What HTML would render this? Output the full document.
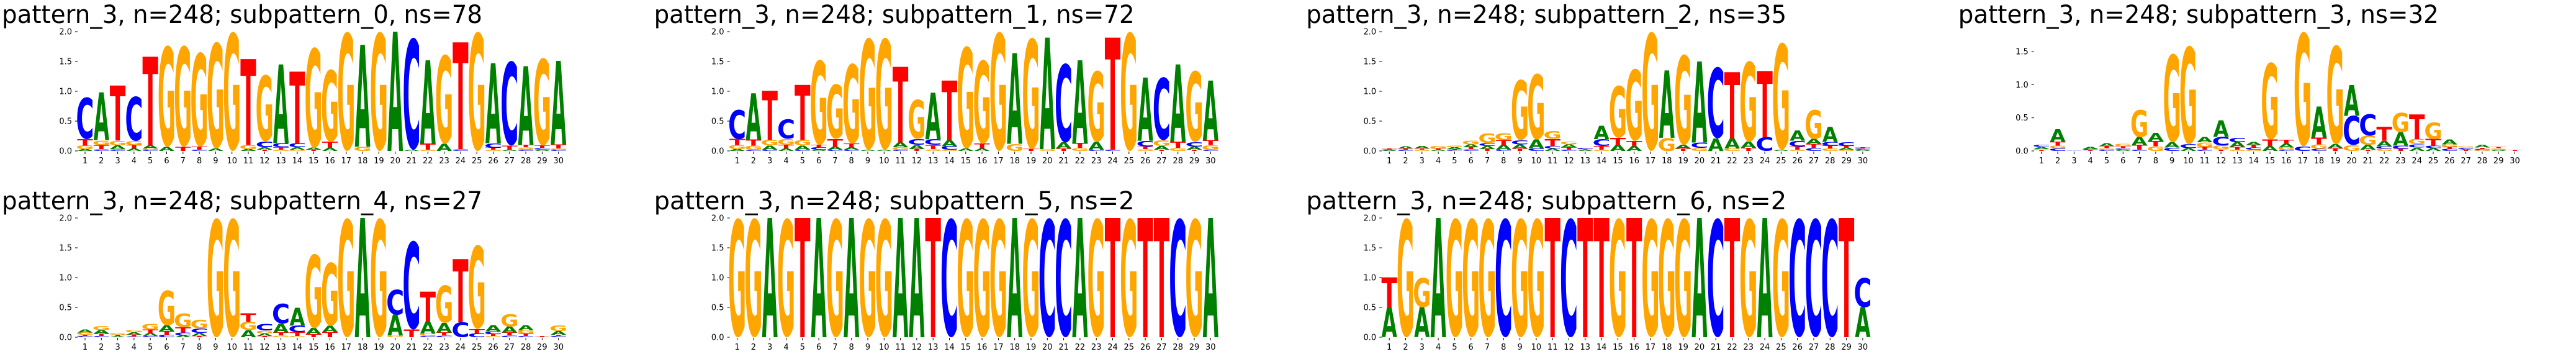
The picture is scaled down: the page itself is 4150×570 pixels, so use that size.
<!DOCTYPE html>
<html><head><meta charset="utf-8">
<style>
html,body{margin:0;padding:0;background:#fff;overflow:hidden;}
svg{display:block;}
</style></head>
<body>
<svg id="fig" width="4150" height="570" viewBox="0 0 4150 570" xmlns="http://www.w3.org/2000/svg" overflow="hidden"></svg>
<script>
const titles = [
 "pattern_3, n=248; subpattern_0, ns=78",
 "pattern_3, n=248; subpattern_1, ns=72",
 "pattern_3, n=248; subpattern_2, ns=35",
 "pattern_3, n=248; subpattern_3, ns=32",
 "pattern_3, n=248; subpattern_4, ns=27",
 "pattern_3, n=248; subpattern_5, ns=2",
 "pattern_3, n=248; subpattern_6, ns=2"
];
const bases = ["A","C","G","T"];
const baseColors = {A:"#008000",C:"#0000ff",G:"#ffa500",T:"#ff0000"};
const positions = [1,2,3,4,5,6,7,8,9,10,11,12,13,14,15,16,17,18,19,20,21,22,23,24,25,26,27,28,29,30];
const yTicks = [0,0.5,1.0,1.5,2.0];
const yTickLabels = ["0.0","0.5","1.0","1.5","2.0"];

const p0 = [[.03,.7,.06,.11],[.8,.03,.08,.07],[.06,.03,.08,.92],[.04,.75,.07,.06],[.05,.02,.02,1.49],[.07,0,1.7,0],[0,0,1.7,.07],[0,.02,1.59,.05],[.04,0,1.79,0],[0,0,2,0],[.03,0,.07,1.44],[.04,.1,1.12,.02],[1.32,.07,.02,.04],[.04,.07,.02,1.2],[.03,0,1.69,.02],[.05,0,1.22,.1],[0,0,2,0],[1.71,0,.07,0],[0,0,2,0],[2,0,0,0],[.02,1.88,0,0],[1.4,0,.02,.1],[.12,0,1.5,0],[0,.03,0,1.79],[0,0,2,0],[1.34,.08,.02,.03],[.02,1.42,0,.07],[1.32,.03,.03,.04],[.02,.03,1.47,.04],[1.4,.02,.02,.07]];
const p1 = [[.03,.49,.07,.1],[.78,.02,.07,.1],[.07,.02,.1,.82],[.04,.33,.1,.06],[.07,.02,.09,.92],[.02,.04,1.43,.04],[.05,.02,.92,.13],[.04,.02,1.35,.06],[.02,0,1.88,0],[.02,0,1.88,0],[.08,.02,.04,1.27],[.07,.1,.66,.03],[.78,.1,.03,.07],[.1,.06,.02,1.0],[.04,0,1.72,0],[.04,0,1.41,.08],[0,0,2,0],[1.52,0,.12,0],[0,0,1.87,.03],[1.87,0,.03,0],[.1,1.33,0,.04],[1.39,0,.05,.08],[.13,.02,1.2,0],[0,.02,0,1.88],[0,0,2,0],[1.06,.1,.03,.04],[.06,1.06,.1,.02],[1.3,0,.05,.1],[.05,.08,1.2,.02],[1.0,.02,.08,.08]];
const p2 = [[.01,.01,0,.02],[.03,.02,0,.02],[.04,0,.02,.02],[.02,0,.04,.02],[.03,.01,.03,.02],[.05,.03,.06,.03],[.05,.05,.16,.03],[.08,.02,.12,.08],[.07,.07,1.02,.04],[.15,.04,1.11,0],[.04,.04,.13,.12],[.05,.02,.05,.04],[.01,.02,.01,.01],[.22,.12,.02,.06],[.1,0,.88,.12],[.08,0,1.21,.09],[0,0,2,0],[1.13,0,.22,0],[.06,0,1.52,.04],[1.36,.09,.05,0],[.21,1.2,0,0],[.17,0,.04,1.11],[.1,0,1.36,.05],[0,.23,0,1.11],[.02,0,1.8,0],[.17,.1,.02,.05],[.08,.05,.49,.07],[.25,.06,.04,.05],[.03,.06,.02,.03],[.02,.02,0,.02]];
const p3 = [[.03,.03,.02,.01],[.19,.04,.04,.06],[0,.005,0,0],[.03,.02,0,.01],[.05,.02,.02,.03],[.02,.02,.04,.03],[.12,.02,.42,.07],[.12,0,.07,.08],[.08,.05,1.34,0],[.04,.06,1.49,0],[.08,.02,.07,.04],[.25,.13,.06,.02],[.07,.07,.02,.04],[.05,.03,.02,.04],[.07,0,1.17,.1],[.06,.02,.03,.06],[0,.07,1.73,0],[.47,.03,.07,.1],[.06,0,1.5,.04],[.46,.44,.09,0],[.07,.33,.14,.02],[.08,.04,.03,.21],[.2,.05,.3,.03],[.05,.05,.08,.37],[.04,.04,.25,.1],[.07,.03,.04,.03],[.02,.02,.02,.01],[.04,.02,.01,.02],[.02,0,.02,.02],[0,0,0,.01]];
const p4 = [[.05,.02,.04,.02],[.06,.02,.07,.04],[.02,0,.03,.02],[.04,.01,.04,.03],[.05,.02,.1,.06],[.1,.04,.59,.06],[.03,.05,.23,.09],[.05,.08,.15,.02],[0,0,2,0],[0,0,2,0],[.12,0,.14,.14],[.04,.11,.05,.02],[.15,.34,.03,.05],[.3,.12,.02,.06],[.1,0,1.25,.05],[.1,0,1.07,.09],[0,0,2,0],[2,0,0,0],[0,0,2,0],[.35,.43,.03,0],[0,1.49,0,.13],[.2,.02,.04,.5],[.16,.03,.63,.05],[0,.25,0,1.06],[0,.07,1.41,.07],[.1,.05,.02,.03],[.1,.03,.21,.05],[.08,.02,.06,.04],[.005,0,0,.01],[.06,.02,.1,.02]];
const seq5 = "GGAGTAGAGGAATCGGGAGCCAGTGTTCGA";
const seq6 = "AGAAGGGCGGTCTTGTGGGACTGAGCCCTA";
const p6Mixed = {1:[0.5,0,0,0.5],3:[0.5,0,0.5,0],30:[0.5,0.5,0,0]};

function seqToMatrix(seq){
  return seq.split("").map(ch => bases.map(b => b===ch ? 2 : 0));
}
const p5 = seqToMatrix(seq5);
const p6 = seqToMatrix(seq6).map((r,i)=> p6Mixed[i+1] ? p6Mixed[i+1].slice() : r);
const panelData = [p0,p1,p2,p3,p4,p5,p6];

const NS = "http://www.w3.org/2000/svg";
const svg = document.getElementById("fig");
const colX = [0,1050.6,2101.2,3151.8];
const plotTop = 51, plotBottom = 243, firstPosX = 137, posStep = 26.3, letterW = 25;
const inkW = {A:77,C:63,G:70,T:67};
const inkH = {A:72.9,C:75.7,G:75.7,T:72.9};
const inkOff = {A:0,C:1.4,G:1.4,T:0};

function mk(tag, attrs, parent){
  const e = document.createElementNS(NS, tag);
  for (const k in attrs) e.setAttribute(k, attrs[k]);
  parent.appendChild(e);
  return e;
}

panelData.forEach((mat, pi) => {
  const col = pi < 4 ? pi : pi - 4;
  const row = pi < 4 ? 0 : 1;
  const ox = colX[col], oy = row * 300;
  const g = mk("g", {}, svg);
  
  
  const ymax = Math.max(...mat.map(r => r.reduce((a,b)=>a+b,0)));
  const yScale = v => oy + plotBottom - v / ymax * (plotBottom - plotTop);
  const xScale = p => ox + firstPosX + (p - 1) * posStep;

  const t = mk("text", {x: ox+3, y: oy+37, "font-family":"DejaVu Sans, Liberation Sans, sans-serif", "font-size":40, fill:"#000", textLength: titles[pi].length > 37 ? 800 : 774, lengthAdjust:"spacingAndGlyphs"}, g);
  t.textContent = titles[pi];
  
  

  yTicks.forEach((v, i) => {
    if (v > ymax + 1e-9) return;
    const y = yScale(v);
    const tk = mk("line", {x1: ox+121, x2: ox+125, y1: y, y2: y, stroke:"#000", "stroke-width":1}, g);
    
    
    const lb = mk("text", {x: ox+116, y: y+4.5, "text-anchor":"end", "font-family":"DejaVu Sans, sans-serif", "font-size":13, fill:"#000"}, g);
    lb.textContent = yTickLabels[i];
    
    
  });
  positions.forEach(p => {
    const x = xScale(p);
    const tk = mk("line", {x1: x, x2: x, y1: oy+plotBottom+1, y2: oy+plotBottom+5, stroke:"#000", "stroke-width":1}, g);
    
    
    const lb = mk("text", {x: x, y: oy+263, "text-anchor":"middle", "font-family":"DejaVu Sans, sans-serif", "font-size":13, fill:"#000"}, g);
    lb.textContent = String(p);
    
    
  });
  mat.forEach((r, idx) => {
    const p = positions[idx];
    const order = bases.map((b,k)=>({b, h:r[k], k})).filter(o=>o.h>0).sort((a,b)=> a.h - b.h || a.k - b.k);
    let acc = 0;
    order.forEach(o => {
      const yb = yScale(acc), yt = yScale(acc + o.h);
      const hpx = yb - yt;
      acc += o.h;
      const sx = letterW / inkW[o.b], sy = hpx / inkH[o.b];
      const lt = mk("text", {
        x: 0, y: 0, "text-anchor":"middle",
        "font-family":"DejaVu Sans, Liberation Sans, sans-serif", "font-weight":"bold", "font-size":100,
        fill: baseColors[o.b],
        transform: `translate(${xScale(p)},${yb - inkOff[o.b]*sy}) scale(${sx},${sy})`
      }, g);
      lt.textContent = o.b;
      
      
    });
  });
});
</script>
</body></html>
